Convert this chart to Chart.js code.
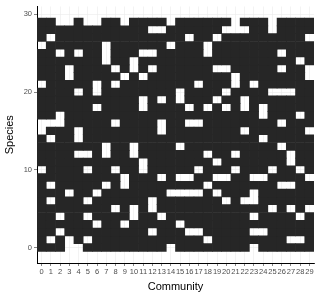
<!DOCTYPE html>
<html>
<head>
<meta charset="utf-8">
<script src="https://cdn.jsdelivr.net/npm/chart.js@4/dist/chart.umd.min.js"></script>
<style>
  html, body { margin: 0; padding: 0; background: #fff; }
</style>
</head>
<body>
<canvas id="grid" width="320" height="300"></canvas>
<script>
// communities along x
const communities = ["0","1","2","3","4","5","6","7","8","9","10","11","12","13","14",
  "15","16","17","18","19","20","21","22","23","24","25","26","27","28","29"];

// species numbers, top row first
const species = [29,28,27,26,25,24,23,22,21,20,19,18,17,16,15,14,13,12,11,10,9,8,7,6,5,4,3,2,1,0];

// presence (1) / absence (0) per species, communities 0..29 left to right
const presence = [
  "11001 00110 11110 11111 10111 01111", // 29
  "11111 11111 11001 11111 00011 01111", // 28
  "10111 11111 11111 10110 11111 11110", // 27
  "01111 11011 11110 11101 11111 11111", // 26
  "11010 11011 10011 11101 11111 10111", // 25
  "11111 11011 01111 11111 11111 11101", // 24
  "11101 11101 01011 11110 01111 10110", // 23
  "11101 11110 10111 11111 10111 11110", // 22
  "01111 10101 11111 11011 10101 11111", // 21
  "11110 10111 11111 01111 01111 00011", // 20
  "11111 11111 10101 01110 11011 11111", // 19
  "11111 10111 10111 10101 01010 11111", // 18
  "11011 11111 11111 11111 11110 11101", // 17
  "00011 11101 11101 10011 11111 10111", // 16
  "01110 11111 11101 11111 11011 11110", // 15
  "10110 11111 11111 11111 11110 11111", // 14
  "11111 11011 01111 01111 11111 10111", // 13
  "11110 01011 01111 11101 10111 11011", // 12
  "11111 11111 10111 11110 11111 11011", // 11
  "01111 01101 10111 11011 10111 01101", // 10
  "11111 11110 11101 00110 01100 11110", // 9
  "10111 11010 11111 11101 11111 10011", // 8
  "11101 10111 11110 00010 11101 11111", // 7
  "10111 01111 11011 11111 01001 11111", // 6
  "11111 11101 01011 11111 11111 01010", // 5
  "11011 01111 01101 11111 11101 11101", // 4
  "11111 10110 11111 01111 11111 11111", // 3
  "11011 11111 11011 10011 11100 11111", // 2
  "10101 01111 11111 11101 11111 11001", // 1
  "11100 11111 11110 11111 11101 11111"  // 0
];

const yTicks = [0, 10, 20, 30];

const tileColor = "#262626";

// one floating-bar dataset per species row
const datasets = species.map((sp, i) => {
  const row = presence[i].replace(/ /g, "");
  return {
    label: "Species " + sp,
    data: communities.map((c, j) => row[j] === "1" ? [sp - 0.5, sp + 0.5] : null),
    backgroundColor: tileColor,
    borderWidth: 0,
    barPercentage: 1,
    categoryPercentage: 1,
    grouped: false
  };
});

new Chart(document.getElementById("grid"), {
  type: "bar",
  data: { labels: communities, datasets: datasets },
  options: {
    responsive: false,
    animation: false,
    devicePixelRatio: 1,
    layout: { padding: { top: 4, right: 6, left: 0, bottom: 0 } },
    plugins: {
      legend: { display: false },
      tooltip: { enabled: false }
    },
    scales: {
      x: {
        type: "category",
        offset: true,
        grid: {
          offset: false,
          color: "#ebebeb",
          lineWidth: 0.6,
          tickColor: "#333333",
          tickLength: 3
        },
        border: { display: true, color: "#000000", width: 1 },
        ticks: {
          autoSkip: false,
          maxRotation: 0,
          minRotation: 0,
          padding: 1,
          color: "#4d4d4d",
          font: { family: "Liberation Sans", size: 7.5 }
        },
        title: {
          display: true,
          text: "Community",
          color: "#000000",
          font: { family: "Liberation Sans", size: 11 },
          padding: { top: 2, bottom: 6 }
        },
        afterFit: (scale) => { scale.height = 37; }
      },
      y: {
        type: "linear",
        min: -2,
        max: 31,
        afterBuildTicks: (scale) => {
          scale.ticks = yTicks.map(v => ({ value: v }));
        },
        grid: {
          color: "#ebebeb",
          lineWidth: 0.6,
          tickColor: "#333333",
          tickLength: 3
        },
        border: { display: true, color: "#000000", width: 1 },
        ticks: {
          padding: 2,
          color: "#4d4d4d",
          font: { family: "Liberation Sans", size: 7.5 }
        },
        title: {
          display: true,
          text: "Species",
          color: "#000000",
          font: { family: "Liberation Sans", size: 11 },
          padding: { top: 3, bottom: 0 }
        },
        afterFit: (scale) => { scale.width = 37; }
      }
    }
  }
});
</script>
</body>
</html>
